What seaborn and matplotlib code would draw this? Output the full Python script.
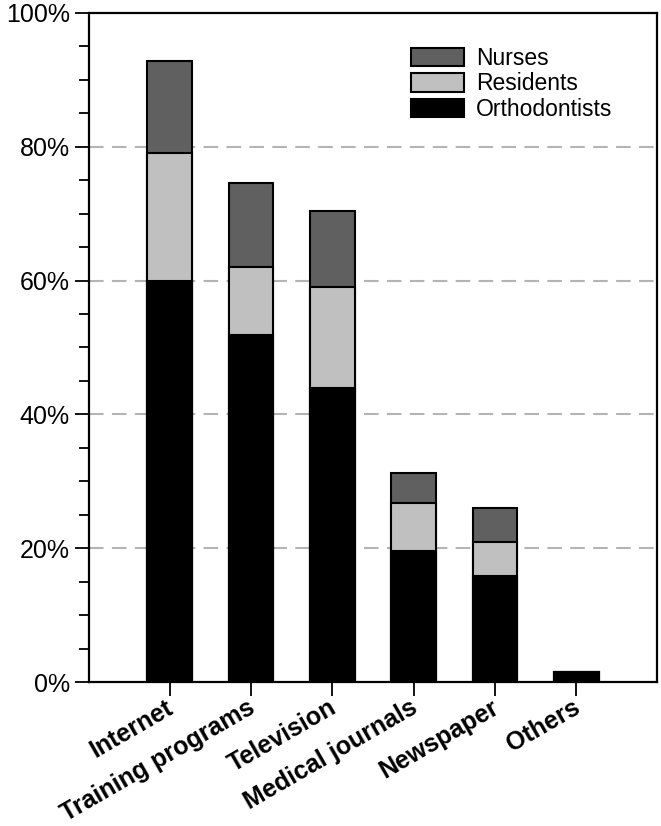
import numpy as np
import pandas as pd
import matplotlib
matplotlib.use("Agg")
import matplotlib.pyplot as plt
import matplotlib.transforms as mtransforms
from matplotlib.ticker import PercentFormatter, MultipleLocator
import seaborn as sns

sources = ["Internet", "Training programs", "Television", "Medical journals", "Newspaper", "Others"]
orthodontists = [60.0, 51.8, 43.9, 19.6, 15.9, 1.5]
residents = [19.1, 10.3, 15.1, 7.1, 5.1, 0.0]
nurses = [13.7, 12.5, 11.4, 4.6, 5.0, 0.0]

sns.set_style("white")
plt.rcParams["font.family"] = ["Liberation Sans", "DejaVu Sans"]
plt.rcParams["text.color"] = "black"
plt.rcParams["xtick.color"] = "black"
plt.rcParams["ytick.color"] = "black"

df = pd.DataFrame({"source": sources,
                   "Orthodontists": orthodontists,
                   "Residents": residents,
                   "Nurses": nurses})
# stacked: draw the cumulative tops from the biggest down
df["res_top"] = df["Orthodontists"] + df["Residents"]
df["nur_top"] = df["res_top"] + df["Nurses"]

fig = plt.figure(figsize=(6.61, 8.26), dpi=100)
ax = fig.add_axes([0.135, 0.1743, 0.8585, 0.81])

for col, color, lab in [("nur_top", "#606060", "Nurses"),
                        ("res_top", "#c0c0c0", "Residents"),
                        ("Orthodontists", "#000000", "Orthodontists")]:
    sns.barplot(data=df, x="source", y=col, order=sources, color=color,
                width=0.55, edgecolor="black", linewidth=1.5, saturation=1,
                label=lab, ax=ax, zorder=3)

ax.set_xlim(-0.99, 5.99)
ax.set_ylim(0, 100)
ax.yaxis.set_major_locator(MultipleLocator(20))
ax.yaxis.set_minor_locator(MultipleLocator(5))
ax.yaxis.set_major_formatter(PercentFormatter(decimals=0))
for v in [20, 40, 60, 80]:
    ax.axhline(v, color="#b4b4b4", linestyle=(0, (7, 4)), linewidth=1.5, zorder=1)

ax.set_xlabel("")
ax.set_ylabel("")
ax.tick_params(axis="y", which="major", direction="out", length=10, width=1.3,
               labelsize=18, left=True, pad=4, colors="black")
ax.tick_params(axis="y", which="minor", direction="out", length=7, width=1.3,
               left=True, colors="black")
ax.tick_params(axis="x", which="major", direction="out", length=10, width=1.3,
               bottom=True, pad=2, colors="black")
shift = mtransforms.ScaledTranslation(-4 / 100, 3 / 100, fig.dpi_scale_trans)
for t in ax.get_xticklabels():
    t.set_rotation(30)
    t.set_ha("right")
    t.set_rotation_mode("anchor")
    t.set_fontsize(18)
    t.set_fontweight("bold")
    t.set_transform(t.get_transform() + shift)
for s in ax.spines.values():
    s.set_visible(True)
    s.set_color("black")
    s.set_linewidth(1.6)

ax.legend(loc="upper left", bbox_to_anchor=(0.567, 0.949), frameon=False,
          fontsize=16.5, handlelength=2.3, handleheight=0.85, labelspacing=0.1,
          handletextpad=0.55, borderpad=0, borderaxespad=0)

fig.savefig("out.png", dpi=100)
